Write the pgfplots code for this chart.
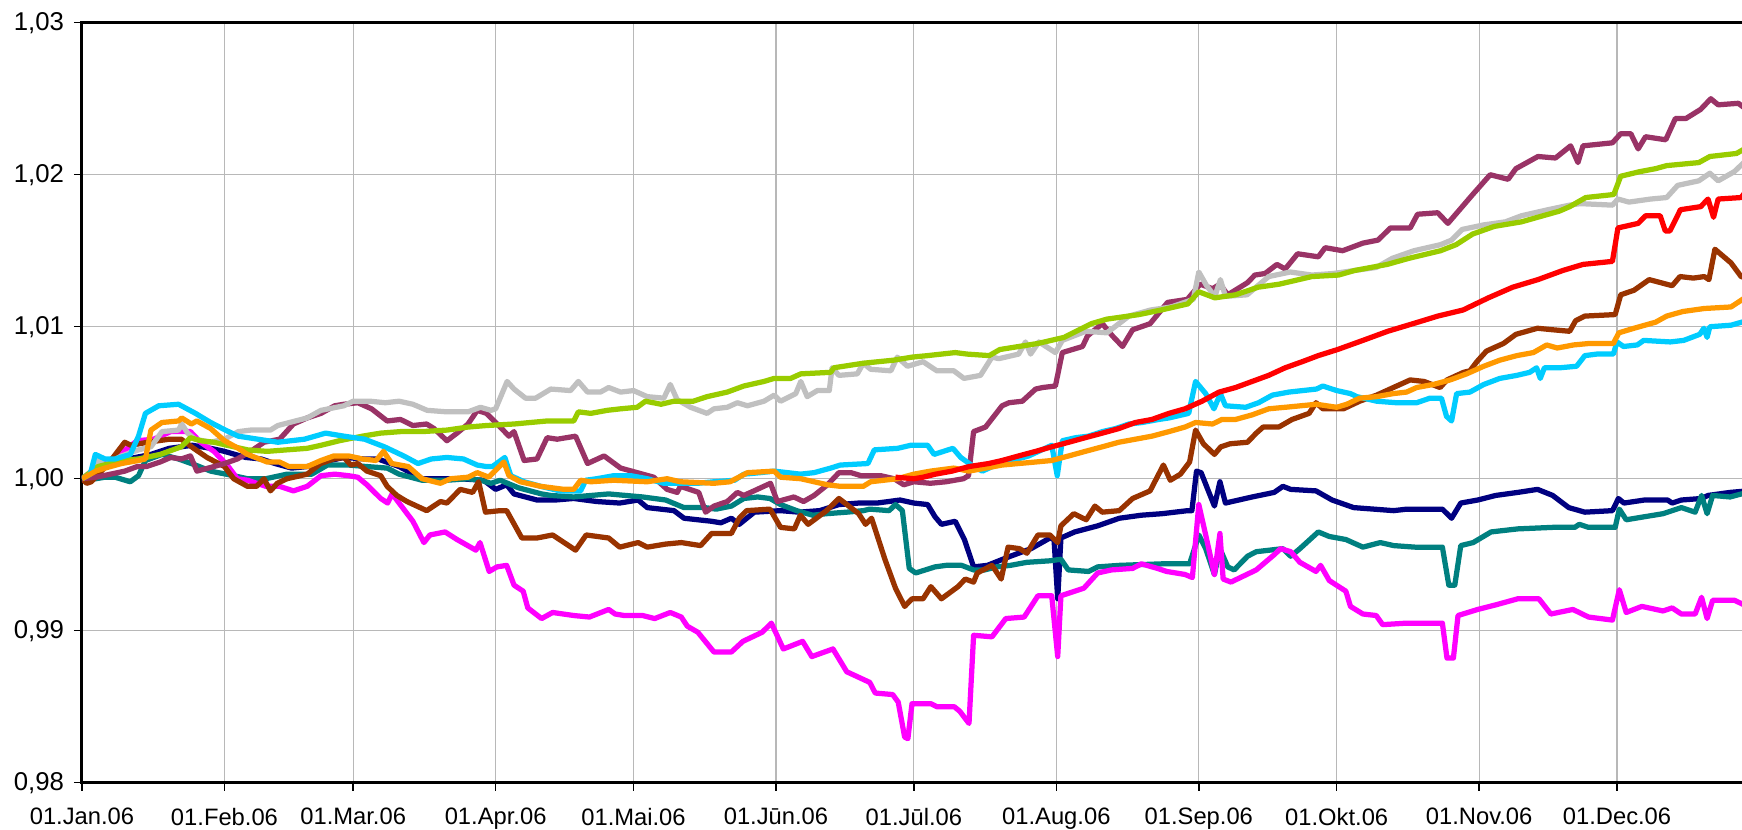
\documentclass[border=0pt]{standalone}
\usepackage{fontspec}
\setmainfont{Liberation Sans}
\usepackage{pgfplots}
\pgfplotsset{compat=1.18}

\definecolor{navyc}{RGB}{0,0,128}
\definecolor{tealc}{RGB}{0,128,128}
\definecolor{magc}{RGB}{255,0,255}
\definecolor{brownc}{RGB}{153,51,0}
\definecolor{plumc}{RGB}{153,51,102}
\definecolor{silverc}{RGB}{192,192,192}
\definecolor{greenc}{RGB}{153,204,0}
\definecolor{skyc}{RGB}{0,204,255}
\definecolor{orangec}{RGB}{255,153,0}
\definecolor{redc}{RGB}{255,0,0}

\begin{document}
\begin{tikzpicture}
\begin{axis}[
  scale only axis,
  width=666.4pt, height=304pt,
  xmin=0, xmax=362.5,
  ymin=0.98, ymax=1.03,
  xtick={0,31,59,90,120,151,181,212,243,273,304,334},
  xticklabels={01.Jan.06,01.Feb.06,01.Mar.06,01.Apr.06,01.Mai.06,01.Jūn.06,
               01.Jūl.06,01.Aug.06,01.Sep.06,01.Okt.06,01.Nov.06,01.Dec.06},
  ytick={0.98,0.99,1.00,1.01,1.02,1.03},
  yticklabel style={font=\fontsize{10.3}{12}\selectfont, text=black, xshift=-0.5pt,
                    /pgf/number format/.cd, fixed, fixed zerofill, precision=2,
                    use comma, assume math mode=true},
  xticklabel style={font=\fontsize{9.5}{11}\selectfont, text=black, yshift=-3.4pt},
  tick pos=left,
  tick align=outside,
  major tick length=3.2pt,
  tick style={black, line width=0.6pt},
  grid=major,
  grid style={black!28, line width=0.5pt},
  axis line style={black, line width=1.2pt},
  every axis plot/.append style={line width=2.1pt, line join=round, mark=none},
  clip=true,
]
% navy
\addplot[navyc] coordinates {
(0,1.0000) (3,1.0005) (6,1.0010) (10,1.0013) (15,1.0016) (19,1.0020) (24,1.0022)
(28,1.0020) (31,1.0018) (35.6,1.0014) (39,1.0013) (42,1.0010) (45.6,1.0007)
(49,1.0008) (54,1.0012) (57,1.0014) (61.5,1.0013) (64.4,1.0013) (69,1.0008)
(74,1.0000) (82,1.0000) (87.4,0.9999) (90,0.9993) (92.4,0.9996) (94,0.9990)
(99,0.9986) (103,0.9986) (107,0.9987) (112,0.9985) (117,0.9984) (121,0.9986)
(123,0.9981) (128.8,0.9979) (131,0.9974) (137,0.9972) (139,0.9971) (141.3,0.9974)
(143,0.9970) (146.3,0.9978) (152,0.9979) (156,0.9978) (160.5,0.9979) (164.7,0.9983)
(169,0.9984) (173,0.9984) (178,0.9986) (181,0.9984) (184,0.9983) (185.6,0.9975)
(187,0.9970) (190,0.9972) (192,0.9960) (194,0.9942) (197,0.9943) (202,0.9949)
(206.5,0.9954) (210.6,0.9961) (211.5,0.9960) (212.3,0.9921) (213,0.9961)
(216,0.9965) (221,0.9969) (225.7,0.9974) (230.5,0.9976) (235,0.9977)
(240.6,0.9979) (241.5,0.9979) (242.5,1.0005) (243.5,1.0004) (246.4,0.9982)
(247.6,0.9998) (248.8,0.9984) (254.6,0.9988) (259.4,0.9991) (261.3,0.9995)
(263,0.9993) (268.5,0.9992) (272,0.9986) (276.7,0.9981) (285.4,0.9979)
(288.3,0.9980) (296,0.9980) (298,0.9974) (300,0.9984) (303.7,0.9986)
(307.6,0.9989) (312.4,0.9991) (316.7,0.9993) (320,0.9989) (323.5,0.9981)
(327,0.9978) (333,0.9979) (334.3,0.9987) (335.5,0.9984) (340,0.9986) (345,0.9986)
(346,0.9984) (348,0.9986) (352.4,0.9987) (353.8,0.9989) (358.6,0.9991) (362.3,0.9992)
};
% teal
\addplot[tealc] coordinates {
(0,1.0000) (3,1.0000) (5,1.0001) (7.2,1.0001) (10.5,0.9998) (12.3,1.0002)
(13.8,1.0012) (17.4,1.0016) (21,1.0013) (24.7,1.0009) (28,1.0005) (33,1.0002)
(36,1.0000) (40,1.0000) (44.6,1.0003) (50,1.0003) (53.4,1.0009) (58,1.0009)
(62,1.0008) (66.4,1.0007) (69,1.0003) (74,0.9999) (79.4,0.9999) (84,1.0000)
(86.7,0.9999) (89,0.9997) (91,0.9999) (95,0.9994) (100,0.9990) (102,0.9989)
(107,0.9988) (114.6,0.9990) (122,0.9988) (127,0.9986) (131,0.9981) (135.5,0.9981)
(138,0.9980) (141.3,0.9982) (144,0.9987) (147,0.9988) (149.7,0.9987) (152,0.9983)
(155.5,0.9979) (159,0.9976) (162,0.9977) (166.4,0.9978) (170,0.9979) (171.4,0.9980)
(175.6,0.9979) (177,0.9983) (178.5,0.9979) (180,0.9941) (181.4,0.9938)
(185.6,0.9942) (188,0.9943) (191.4,0.9943) (194,0.9940) (196.4,0.9940)
(199,0.9942) (202,0.9943) (205.6,0.9945) (210.6,0.9946) (213,0.9947)
(214.6,0.9940) (219,0.9939) (221,0.9942) (225.7,0.9943) (235,0.9944) (241,0.9944)
(243,0.9963) (244.5,0.9954) (246.4,0.9937) (247.6,0.9954) (249.3,0.9942)
(250.7,0.9940) (253.6,0.9949) (255.5,0.9952) (261.3,0.9954) (263,0.9949)
(265,0.9954) (269,0.9965) (271.4,0.9962) (275,0.9960) (278.7,0.9955)
(282.5,0.9958) (285.4,0.9956) (290,0.9955) (296,0.9955) (297.4,0.9930)
(298.7,0.9930) (300,0.9956) (302.7,0.9958) (306.6,0.9965) (312.4,0.9967)
(320,0.9968) (324.8,0.9968) (325.8,0.9970) (327.8,0.9968) (333.6,0.9968)
(334.5,0.9980) (336,0.9973) (340,0.9975) (344,0.9977) (348,0.9981) (351,0.9978)
(352.4,0.9989) (353.6,0.9977) (354.8,0.9989) (358.6,0.9988) (362.3,0.9991)
};
% magenta
\addplot[magc] coordinates {
(0,1.0000) (3,1.0006) (6,1.0012) (9,1.0018) (12,1.0025) (15.6,1.0026)
(19.3,1.0031) (23.6,1.0031) (25.8,1.0024) (28.7,1.0018) (31.6,1.0009)
(33.8,1.0000) (36,0.9999) (40,0.9995) (43,0.9995) (46,0.9992) (49,0.9995)
(52,1.0002) (55,1.0003) (58,1.0002) (60,1.0001) (62,0.9996) (65,0.9987)
(66.5,0.9984) (67.5,0.9990) (70,0.9980) (72,0.9972) (74.4,0.9958) (75.7,0.9963)
(79,0.9965) (81.6,0.9960) (85.7,0.9953) (86.6,0.9958) (88.6,0.9939) (90.3,0.9942)
(92.4,0.9943) (94,0.9930) (96,0.9926) (97,0.9915) (100,0.9908) (102.4,0.9912)
(107,0.9910) (110.4,0.9909) (114.6,0.9914) (116,0.9911) (118,0.9910) (122,0.9910)
(124.6,0.9908) (128,0.9912) (130.4,0.9909) (131.7,0.9903) (134,0.9899)
(137.5,0.9886) (141.3,0.9886) (143.8,0.9893) (148,0.9899) (150,0.9905)
(152.6,0.9888) (156.8,0.9893) (158.8,0.9883) (163.4,0.9888) (166.4,0.9873)
(171.4,0.9866) (172.6,0.9859) (176.4,0.9858) (177.6,0.9853) (179,0.9830)
(179.7,0.9829) (180.6,0.9852) (184.7,0.9852) (186,0.9850) (189.8,0.9850)
(191,0.9847) (193,0.9839) (194,0.9897) (198,0.9896) (201,0.9908) (205,0.9909)
(208,0.9923) (211,0.9923) (212.3,0.9883) (213,0.9923) (218,0.9928) (221,0.9938)
(224,0.9940) (228.6,0.9941) (230.5,0.9944) (234,0.9941) (236,0.9939) (240,0.9937)
(241.6,0.9935) (243,0.9983) (244.5,0.9963) (246.4,0.9937) (247.6,0.9964)
(248.3,0.9934) (250,0.9932) (255.5,0.9940) (259.4,0.9950) (260.8,0.9954)
(263,0.9952) (265,0.9945) (268.5,0.9939) (269.5,0.9943) (271.4,0.9933)
(275,0.9926) (276,0.9916) (278.7,0.9911) (281.6,0.9910) (283,0.9904)
(288.3,0.9905) (296,0.9905) (297,0.9882) (298.4,0.9882) (299.4,0.9910)
(303.7,0.9914) (307.6,0.9917) (312.4,0.9921) (317,0.9921) (319.6,0.9911)
(324.4,0.9914) (327.8,0.9909) (333,0.9907) (334.5,0.9927) (336,0.9912)
(339.4,0.9916) (344,0.9913) (346,0.9915) (348,0.9911) (351,0.9911) (352.4,0.9922)
(353.6,0.9908) (354.8,0.9920) (359.6,0.9920) (362.3,0.9916)
};
% brown
\addplot[brownc] coordinates {
(0,1.0000) (1,0.9997) (2,0.9998) (5.5,1.0009) (9.3,1.0024) (10.6,1.0022)
(14.3,1.0024) (19,1.0026) (21.6,1.0026) (24.3,1.0020) (27.2,1.0014) (31,1.0008)
(33,1.0000) (36,0.9995) (38,0.9995) (39.6,1.0000) (41,0.9992) (42.5,0.9997)
(44.6,1.0000) (49,1.0003) (51.9,1.0010) (54.8,1.0013) (57,1.0014) (58.5,1.0009)
(60,1.0010) (62,1.0005) (65,1.0002) (66.4,0.9995) (68.5,0.9989) (70.7,0.9985)
(75,0.9979) (78,0.9985) (79.4,0.9984) (82.3,0.9993) (85,0.9991) (86.3,0.9998)
(87.8,0.9978) (91,0.9979) (92.4,0.9979) (95.7,0.9961) (99,0.9961) (102.4,0.9963)
(107.4,0.9953) (109.7,0.9963) (114.6,0.9961) (117,0.9955) (121,0.9958)
(123,0.9955) (127,0.9957) (130.4,0.9958) (134.6,0.9956) (137,0.9964)
(141.3,0.9964) (143,0.9974) (144.6,0.9979) (149.7,0.9980) (152,0.9968)
(155,0.9967) (156.3,0.9976) (158,0.9970) (162,0.9979) (164.7,0.9987)
(169,0.9977) (170.5,0.9970) (171.8,0.9974) (174.7,0.9947) (177,0.9928)
(179,0.9916) (180.6,0.9921) (183,0.9921) (184.7,0.9929) (187,0.9921)
(190.6,0.9929) (192.2,0.9934) (194,0.9932) (194.8,0.9938) (198,0.9943)
(200,0.9934) (201.5,0.9955) (204,0.9954) (205.6,0.9951) (208,0.9963)
(210.6,0.9963) (212.3,0.9958) (213,0.9969) (215.8,0.9977) (218.5,0.9973)
(220.4,0.9982) (222,0.9978) (225.7,0.9979) (228.6,0.9987) (232.4,0.9992)
(235.3,1.0009) (236.8,0.9999) (239,1.0003) (241,1.0011) (242.3,1.0032)
(244,1.0023) (246.4,1.0016) (247.8,1.0021) (249.8,1.0023) (253.6,1.0024)
(255.5,1.0030) (257,1.0034) (260.4,1.0034) (263.3,1.0039) (267,1.0043)
(268.5,1.0050) (270,1.0046) (274.5,1.0046) (278,1.0051) (281.7,1.0055)
(284.6,1.0059) (289,1.0065) (292,1.0064) (295.5,1.0060) (297,1.0065)
(300.6,1.0070) (302,1.0071) (303.5,1.0077) (305.6,1.0084) (309.3,1.0089)
(312,1.0095) (316.7,1.0099) (320,1.0098) (323.7,1.0097) (325,1.0104)
(327,1.0107) (333.6,1.0108) (334.8,1.0121) (337.7,1.0124) (341,1.0131)
(346,1.0127) (347.7,1.0133) (350.6,1.0132) (353,1.0133) (354,1.0131)
(355.3,1.0151) (358.8,1.0142) (361,1.0133) (362.3,1.0132)
};
% plum
\addplot[plumc] coordinates {
(0,1.0000) (3,1.0001) (6.2,1.0003) (9.3,1.0005) (12,1.0008) (14,1.0008)
(17,1.0011) (19.3,1.0014) (21.6,1.0013) (23.6,1.0015) (25,1.0005) (28.7,1.0008)
(31,1.0010) (33.8,1.0013) (36.7,1.0018) (39.6,1.0024) (43,1.0026) (46,1.0036)
(49,1.0040) (52,1.0043) (55,1.0048) (57,1.0049) (60,1.0050) (63,1.0046)
(66.4,1.0038) (69.3,1.0039) (72,1.0035) (75,1.0036) (76.6,1.0033) (79.4,1.0025)
(81.6,1.0030) (84,1.0036) (86,1.0045) (88,1.0043) (89,1.0040) (91,1.0034)
(92.9,1.0028) (94,1.0031) (96.2,1.0012) (99,1.0013) (101.2,1.0027) (103.4,1.0026)
(107.4,1.0028) (110,1.0010) (113.6,1.0015) (117.2,1.0007) (120.8,1.0004)
(124.4,1.0001) (127.3,0.9993) (129.5,0.9991) (130.2,0.9995) (134.2,0.9991)
(135.7,0.9978) (137.5,0.9982) (140.4,0.9985) (142.6,0.9991) (144,0.9989)
(146.2,0.9992) (149.8,0.9997) (151.3,0.9985) (154.9,0.9988) (157,0.9985)
(159.3,0.9989) (162.2,0.9996) (164.7,1.0004) (167.3,1.0004) (169.5,1.0002)
(173.8,1.0002) (176.7,1.0000) (178.8,0.9996) (181,0.9998) (184.6,0.9997)
(188,0.9998) (191.8,1.0000) (192.9,1.0002) (194,1.0031) (196.6,1.0034)
(200.2,1.0048) (201.7,1.0050) (204.6,1.0051) (207.5,1.0059) (209,1.0060)
(211.8,1.0061) (213.3,1.0083) (217.7,1.0087) (218.8,1.0094) (222,1.0102)
(224.2,1.0094) (226.4,1.0087) (228.6,1.0098) (232.4,1.0102) (236.2,1.0116)
(240.5,1.0118) (243.3,1.0128) (246,1.0125) (247.6,1.0128) (249.3,1.0121)
(253.6,1.0129) (255.2,1.0134) (257.4,1.0135) (260,1.0141) (261.8,1.0138)
(264.5,1.0148) (269,1.0146) (270.5,1.0152) (274.3,1.0150) (278.7,1.0155)
(282,1.0157) (284.7,1.0165) (289,1.0165) (290.6,1.0174) (295,1.0175)
(297.2,1.0168) (302.6,1.0187) (306.4,1.0200) (310.3,1.0197) (312,1.0204)
(316.8,1.0212) (320.6,1.0211) (323.9,1.0219) (325.5,1.0208) (326.6,1.0219)
(333,1.0221) (334.8,1.0227) (337,1.0227) (338.6,1.0217) (340.2,1.0225)
(344.6,1.0223) (346.7,1.0237) (349,1.0237) (352.2,1.0243) (354.4,1.0250)
(356,1.0246) (360.4,1.0247) (361.7,1.0244) (362.3,1.0249)
};
% silver
\addplot[silverc] coordinates {
(0,1.0000) (2,1.0005) (3.5,1.0012) (5,1.0009) (8.6,1.0015) (12.3,1.0019)
(15,1.0021) (17.4,1.0031) (21,1.0032) (21.7,1.0036) (23,1.0030) (24.6,1.0026)
(28,1.0024) (31,1.0026) (34,1.0031) (36.7,1.0032) (41,1.0032) (42.6,1.0035)
(49,1.0040) (52,1.0045) (57,1.0048) (59,1.0051) (62.7,1.0051) (66,1.0050)
(69,1.0051) (72,1.0049) (75.1,1.0045) (79.4,1.0044) (84,1.0044) (86.7,1.0047)
(89,1.0045) (90,1.0046) (92.5,1.0064) (94,1.0059) (96.5,1.0053) (98.7,1.0053)
(102,1.0059) (106.3,1.0058) (108,1.0064) (110,1.0057) (112.8,1.0057)
(114.6,1.0060) (117.2,1.0057) (120,1.0058) (123,1.0054) (126.6,1.0053)
(128,1.0062) (129.5,1.0052) (132.4,1.0047) (136,1.0043) (137.5,1.0046)
(140.4,1.0047) (142.6,1.0050) (144.8,1.0048) (148.4,1.0051) (150.6,1.0055)
(152,1.0051) (155.3,1.0056) (156.4,1.0064) (157.8,1.0054) (160,1.0058)
(162.6,1.0058) (163.2,1.0073) (164.7,1.0068) (168.7,1.0069) (170,1.0076)
(171.6,1.0072) (176,1.0071) (177.4,1.0080) (179.6,1.0074) (183,1.0077)
(186,1.0071) (189.7,1.0071) (191.9,1.0066) (195.5,1.0068) (198,1.0080)
(199.5,1.0079) (203.8,1.0082) (205.3,1.0090) (206.4,1.0082) (208.2,1.0090)
(211.8,1.0083) (213.3,1.0091) (218.4,1.0097) (223,1.0096) (227.8,1.0107)
(232.5,1.0111) (237,1.0113) (241.8,1.0118) (243,1.0136) (244.7,1.0127)
(246.5,1.0120) (247.7,1.0131) (248.8,1.0120) (253.5,1.0121) (258.2,1.0133)
(262.9,1.0136) (267.6,1.0134) (272.2,1.0135) (276.9,1.0137) (281.6,1.0139)
(285.1,1.0145) (289.8,1.0150) (295.6,1.0154) (298,1.0157) (300.3,1.0164)
(305,1.0167) (309.7,1.0169) (313.2,1.0173) (319,1.0177) (323.7,1.0180)
(326,1.0181) (333,1.0180) (334.2,1.0184) (336.6,1.0182) (341.3,1.0184)
(344.8,1.0185) (347.2,1.0193) (351.8,1.0196) (354.2,1.0201) (356,1.0196)
(359.5,1.0202) (362.3,1.0210)
};
% yellow-green
\addplot[greenc] coordinates {
(0,1.0000) (3.5,1.0008) (8.6,1.0012) (12.3,1.0013) (17,1.0016) (21.6,1.0021)
(23.6,1.0027) (25.8,1.0025) (28.7,1.0024) (31.6,1.0022) (36,1.0019) (40.3,1.0018)
(44.6,1.0019) (49,1.0020) (52,1.0022) (56,1.0025) (61,1.0028) (65,1.0030)
(69.3,1.0031) (74,1.0031) (79.4,1.0032) (84,1.0034) (88,1.0035) (94,1.0036)
(101.2,1.0038) (107,1.0038) (108,1.0044) (110.7,1.0043) (114.3,1.0045)
(117.2,1.0046) (120.8,1.0047) (122.6,1.0051) (126,1.0049) (128.8,1.0051)
(133,1.0051) (136,1.0054) (140.4,1.0057) (144,1.0061) (148.4,1.0064)
(150.6,1.0066) (154.2,1.0066) (156.4,1.0069) (162.9,1.0070) (163.6,1.0073)
(170,1.0076) (176.6,1.0078) (180.6,1.0080) (184,1.0081) (190,1.0083)
(192.6,1.0082) (197.4,1.0081) (199.7,1.0085) (208,1.0089) (213.7,1.0093)
(219.6,1.0102) (223,1.0105) (230,1.0108) (234.8,1.0111) (240.6,1.0115)
(243,1.0123) (246.5,1.0119) (251,1.0121) (255.9,1.0126) (260.5,1.0128)
(267.6,1.0133) (273.4,1.0134) (276.9,1.0137) (284,1.0141) (288.7,1.0145)
(295.6,1.0150) (299,1.0154) (302.6,1.0161) (307.3,1.0166) (313.2,1.0169)
(316.7,1.0172) (321.4,1.0176) (323.7,1.0179) (327.2,1.0185) (333.3,1.0187)
(334.8,1.0199) (338.9,1.0202) (342.4,1.0204) (344.8,1.0206) (351.8,1.0208)
(354.2,1.0212) (360,1.0214) (362.3,1.0218)
};
% sky blue
\addplot[skyc] coordinates {
(0,1.0000) (1.8,1.0003) (2.9,1.0016) (5,1.0013) (7.2,1.0013) (10.5,1.0016)
(12.3,1.0028) (13.8,1.0043) (16.7,1.0048) (21,1.0049) (24.7,1.0043) (28,1.0037)
(31.2,1.0032) (34,1.0028) (38.3,1.0026) (42.6,1.0024) (48.4,1.0026) (53,1.0030)
(57,1.0028) (61.5,1.0026) (65.8,1.0021) (70,1.0015) (73.1,1.0010) (76,1.0013)
(79.4,1.0014) (83,1.0013) (86,1.0009) (88,1.0008) (89.3,1.0008) (92,1.0014)
(93.3,1.0002) (96.2,0.9998) (99.8,0.9995) (104,0.9992) (108.5,0.9992)
(109.6,0.9999) (112,1.0000) (115.7,1.0002) (119.4,1.0002) (123,1.0000)
(126.6,0.9997) (134,0.9997) (137.5,0.9998) (142,0.9999) (144,1.0003)
(147.6,1.0004) (150.6,1.0005) (153.5,1.0004) (156.3,1.0003) (159.3,1.0004)
(162.9,1.0007) (165,1.0009) (171,1.0010) (172.4,1.0019) (177.5,1.0020)
(180.3,1.0022) (184,1.0022) (185.4,1.0016) (189.5,1.0020) (191.2,1.0014)
(193.5,1.0009) (195.9,1.0005) (198.8,1.0009) (202.4,1.0012) (206,1.0015)
(211,1.0022) (212.2,1.0002) (213.3,1.0025) (216.2,1.0027) (219,1.0028)
(222,1.0031) (224.9,1.0033) (227.8,1.0036) (230.7,1.0037) (234.3,1.0039)
(236.5,1.0040) (240.8,1.0043) (242.3,1.0064) (244.5,1.0056) (246.3,1.0046)
(247.7,1.0056) (248.8,1.0048) (253.2,1.0047) (256,1.0050) (259,1.0055)
(262.6,1.0057) (268.6,1.0059) (270,1.0061) (273,1.0058) (276,1.0056)
(277.4,1.0054) (281.7,1.0051) (286,1.0050) (290.4,1.0050) (293.3,1.0053)
(295.8,1.0053) (296.9,1.0041) (298,1.0038) (299.1,1.0056) (302,1.0057)
(305,1.0062) (308.5,1.0066) (312.2,1.0068) (315,1.0070) (316.5,1.0073)
(317.3,1.0066) (318.2,1.0073) (321.6,1.0073) (325.2,1.0074) (327,1.0081)
(329.6,1.0082) (333.2,1.0082) (334,1.0090) (335.4,1.0087) (338.4,1.0088)
(339.8,1.0091) (345.6,1.0090) (348.5,1.0091) (352,1.0095) (352.9,1.0099)
(353.6,1.0093) (354.2,1.0100) (358.8,1.0101) (362.3,1.0104)
};
% orange
\addplot[orangec] coordinates {
(0,1.0000) (3,1.0005) (5,1.0007) (8.6,1.0010) (12.3,1.0012) (13.8,1.0013)
(15,1.0032) (17.4,1.0037) (21,1.0038) (21.7,1.0040) (23.8,1.0036) (25,1.0038)
(28,1.0033) (31,1.0025) (34,1.0020) (36,1.0016) (40.3,1.0011) (43,1.0011)
(45,1.0008) (49,1.0008) (52,1.0012) (54.8,1.0015) (58,1.0015) (61,1.0013)
(64,1.0012) (65.6,1.0018) (67.4,1.0010) (71,1.0008) (74,1.0000) (78,0.9997)
(80.2,1.0000) (84,1.0001) (86,1.0004) (88.5,1.0001) (91.8,1.0011) (92.9,1.0002)
(95.4,0.9998) (99.8,0.9995) (104.9,0.9993) (107,0.9993) (108.5,0.9999)
(110.7,0.9998) (115.7,0.9999) (123,0.9998) (127.3,1.0000) (130.2,0.9998)
(137.5,0.9997) (141,0.9998) (144.8,1.0004) (150.6,1.0005) (152,1.0001)
(156.4,1.0000) (159.3,0.9998) (162.2,0.9996) (165,0.9995) (170,0.9995)
(171.6,0.9998) (177.4,1.0000) (181,1.0003) (184.6,1.0005) (189.7,1.0007)
(193,1.0005) (196.6,1.0007) (200.2,1.0009) (203.8,1.0010) (207.5,1.0011)
(211,1.0012) (214.7,1.0015) (218.3,1.0018) (222,1.0021) (225.6,1.0024)
(229.2,1.0026) (232.8,1.0028) (236.5,1.0031) (240,1.0034) (242.3,1.0037)
(246,1.0036) (248,1.0039) (251,1.0039) (254.6,1.0042) (258.2,1.0046)
(261.8,1.0047) (268.6,1.0049) (273,1.0047) (275.2,1.0049) (278,1.0053)
(281.7,1.0054) (285.3,1.0056) (288.2,1.0057) (290.4,1.0060) (294,1.0062)
(297.7,1.0065) (301.3,1.0069) (305,1.0074) (308.5,1.0078) (312.2,1.0081)
(315.8,1.0083) (318.7,1.0088) (321,1.0086) (324.5,1.0088) (328,1.0089)
(333.2,1.0089) (334.4,1.0096) (337.7,1.0099) (342.4,1.0103) (344.8,1.0107)
(348.3,1.0110) (353,1.0112) (358.8,1.0113) (362.3,1.0120)
};
% red
\addplot[redc] coordinates {
(177,1.0001) (181,1.0000) (183,1.0001) (185.7,1.0003) (189.3,1.0005)
(193,1.0008) (197.3,1.0010) (200.2,1.0012) (203.8,1.0015) (207.5,1.0018)
(211,1.0021) (214.7,1.0024) (218.3,1.0027) (222,1.0030) (225.6,1.0033)
(229.2,1.0037) (232.8,1.0039) (236.5,1.0043) (240,1.0046) (243.7,1.0051)
(247.4,1.0057) (251,1.0060) (254.6,1.0064) (258.2,1.0068) (261.8,1.0073)
(265.5,1.0077) (269,1.0081) (273.2,1.0085) (278.7,1.0091) (284.1,1.0097)
(289.6,1.0102) (295,1.0107) (300.5,1.0111) (306,1.0119) (311.3,1.0126)
(316.8,1.0131) (322.2,1.0137) (326.6,1.0141) (333,1.0143) (334.2,1.0165)
(338.6,1.0168) (340.2,1.0173) (343.4,1.0173) (344.5,1.0163) (345.5,1.0163)
(347.8,1.0177) (352.2,1.0179) (353.8,1.0184) (355,1.0172) (356,1.0184)
(361,1.0185) (362.3,1.0190)
};
\end{axis}
\pgfresetboundingbox
\path[use as bounding box] ([shift={(-32.8pt,-18.8pt)}]current axis.south west)
  rectangle ([shift={(664pt,9.1pt)}]current axis.north west);
\end{tikzpicture}
\end{document}
